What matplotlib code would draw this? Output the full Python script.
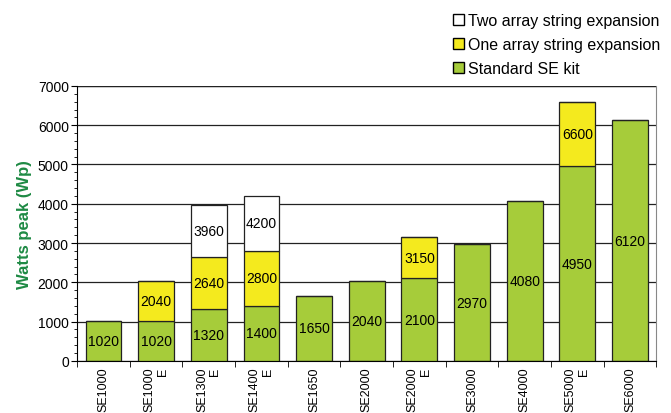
import numpy as np
import matplotlib.pyplot as plt
from matplotlib.patches import Patch
from matplotlib.ticker import MultipleLocator

plt.rcParams['font.family'] = ['Liberation Sans', 'DejaVu Sans']

# modeles d'onduleurs
modeles = ['SE1000', 'SE1000\nE', 'SE1300\nE', 'SE1400\nE', 'SE1650', 'SE2000',
           'SE2000\nE', 'SE3000', 'SE4000', 'SE5000\nE', 'SE6000']
# totaux cumules (0 = pas de segment)
standard = [1020, 1020, 1320, 1400, 1650, 2040, 2100, 2970, 4080, 4950, 6120]
un_string = [0, 2040, 2640, 2800, 0, 0, 3150, 0, 0, 6600, 0]
deux_string = [0, 0, 3960, 4200, 0, 0, 0, 0, 0, 0, 0]

vert = '#a6cc3a'
jaune = '#f4ea1e'
bord = '#222222'

fig = plt.figure(figsize=(6.71, 4.14), dpi=100)
ax = fig.add_axes([0.115, 0.126, 0.863, 0.664])

x = np.arange(len(modeles))
w = 0.68
std = np.array(standard)
un = np.array(un_string)
deux = np.array(deux_string)

ax.bar(x, std, w, color=vert, edgecolor=bord, linewidth=0.9, zorder=3)
h_un = np.where(un > 0, un - std, 0)
ax.bar(x, h_un, w, bottom=std, color=jaune, edgecolor=bord, linewidth=0.9, zorder=3)
h_deux = np.where(deux > 0, deux - un, 0)
ax.bar(x, h_deux, w, bottom=un, color='white', edgecolor=bord, linewidth=0.9, zorder=3)

# etiquettes au milieu de chaque segment
fs = 10
for i in range(len(x)):
    ax.text(x[i], std[i] / 2, str(std[i]), ha='center', va='center', fontsize=fs, zorder=4)
    if un[i] > 0:
        ax.text(x[i], (std[i] + un[i]) / 2, str(un[i]), ha='center', va='center', fontsize=fs, zorder=4)
    if deux[i] > 0:
        ax.text(x[i], (un[i] + deux[i]) / 2, str(deux[i]), ha='center', va='center', fontsize=fs, zorder=4)

ax.set_xlim(-0.5, len(x) - 0.5)
ax.set_ylim(0, 7000)
ax.yaxis.set_major_locator(MultipleLocator(1000))
ax.yaxis.set_minor_locator(MultipleLocator(200))
ax.grid(axis='y', which='major', color='#222222', linewidth=0.9, zorder=0)
ax.axhline(7000, color='#222222', linewidth=0.9, zorder=0)

ax.set_xticks(x)
ax.set_xticklabels(modeles, rotation=90, multialignment='right', fontsize=9, linespacing=1.15)
ax.set_xticks(np.arange(len(x) + 1) - 0.5, minor=True)
ax.tick_params(axis='x', which='major', length=0, pad=4)
ax.tick_params(axis='x', which='minor', length=4, direction='out')
ax.tick_params(axis='y', which='major', length=4, labelsize=fs, pad=2)
ax.tick_params(axis='y', which='minor', length=2)

ax.spines['top'].set_visible(False)
ax.spines['right'].set_color('#888888')
ax.spines['left'].set_color('black')
ax.spines['bottom'].set_color('black')

ax.set_ylabel('Watts peak (Wp)', color='#1e8a44', fontweight='bold', fontsize=12, labelpad=4)

handles = [Patch(facecolor='white', edgecolor='black', label='Two array string expansion'),
           Patch(facecolor=jaune, edgecolor='black', label='One array string expansion'),
           Patch(facecolor=vert, edgecolor='black', label='Standard SE kit')]
fig.legend(handles=handles, loc='upper left', bbox_to_anchor=(0.653, 1.0), frameon=False,
           fontsize=11.5, handlelength=0.7, handleheight=0.7, handletextpad=0.25, labelspacing=0.55)

fig.savefig('out.png', dpi=100)
